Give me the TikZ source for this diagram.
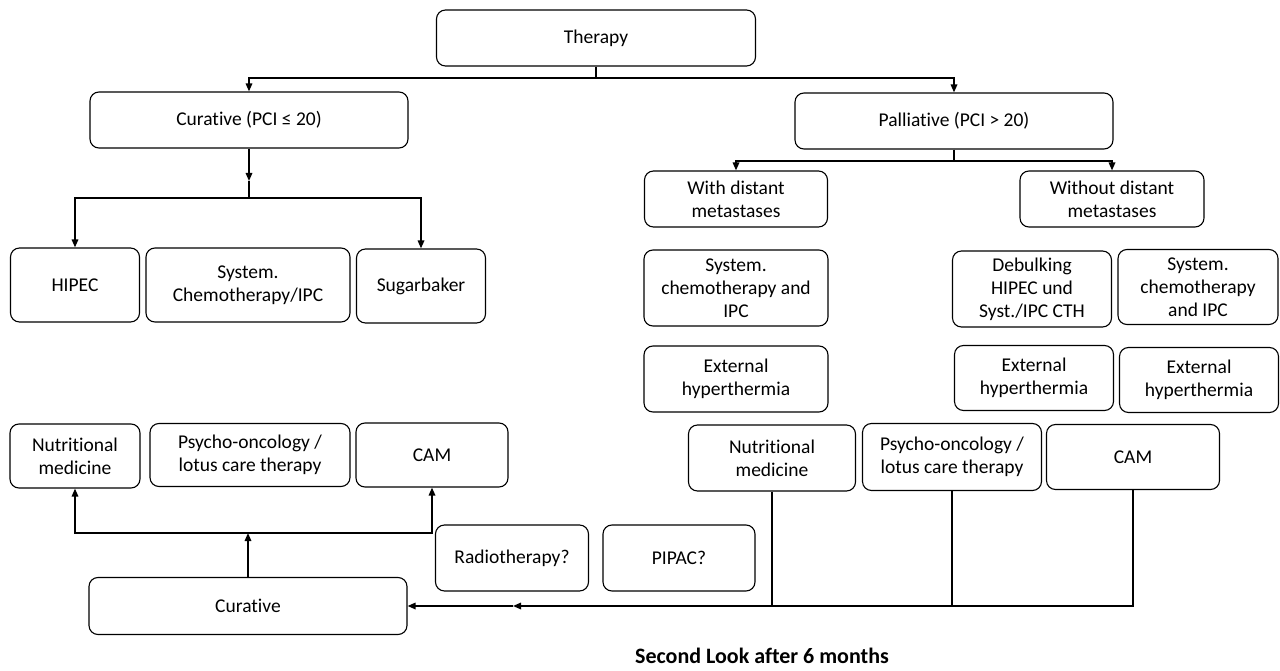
\documentclass[tikz,border=0pt]{standalone}
\usepackage{fontspec}
\setmainfont{Carlito}[Ligatures=NoCommon]
\usetikzlibrary{arrows.meta}

\begin{document}
\begin{tikzpicture}[x=1pt,y=-1pt,
      font=\fontsize{19.5}{23}\selectfont,
      box/.style={draw,rounded corners=9pt,line width=1.1pt,align=center,
                  inner sep=2pt},
      link/.style={line width=1.6pt},
      arr/.style={link,-{Triangle[length=8pt,width=6.5pt]}}]
    \useasboundingbox (0,0) rectangle (1280,671);
    % top levels
    \node[box,minimum width=319,minimum height=56] (therapy) at (596,38) {Therapy};
    \node[box,minimum width=318,minimum height=56] (curP) at (249,120) {Curative (PCI ≤ 20)};
    \node[box,minimum width=318,minimum height=56] (palP) at (954,121) {Palliative (PCI > 20)};
    \node[box,minimum width=183,minimum height=56] (withM) at (736,199) {With distant\\metastases};
    \node[box,minimum width=184,minimum height=56] (withoutM) at (1112,199) {Without distant\\metastases};

    % curative branch
    \node[box,minimum width=129,minimum height=74] (hipec) at (75,285) {HIPEC};
    \node[box,minimum width=204,minimum height=74] (sysL) at (248,285) {System.\\Chemotherapy/IPC};
    \node[box,minimum width=129,minimum height=74] (sugar) at (421,286) {Sugarbaker};
    \node[box,minimum width=130,minimum height=64] (nutL) at (75,456) {Nutritional\\medicine};
    \node[box,minimum width=200,minimum height=63] (psyL) at (250,455) {Psycho-oncology /\\lotus care therapy};
    \node[box,minimum width=152,minimum height=64] (camL) at (432,455) {CAM};
    \node[box,minimum width=153,minimum height=66] (radio) at (512,558) {Radiotherapy?};
    \node[box,minimum width=152,minimum height=66] (pipac) at (679,558) {PIPAC?};
    \node[box,minimum width=318,minimum height=57] (cure) at (248,606) {Curative};

    % palliative branch
    \node[box,minimum width=184,minimum height=76] (sysW) at (736,288) {System.\\chemotherapy and\\IPC};
    \node[box,minimum width=184,minimum height=66] (extW) at (736,379) {External\\hyperthermia};
    \node[box,minimum width=159,minimum height=76] (debulk) at (1032,289) {Debulking\\HIPEC und\\Syst./IPC CTH};
    \node[box,minimum width=160,minimum height=75] (sysO) at (1198,287) {System.\\chemotherapy\\and IPC};
    \node[box,minimum width=159,minimum height=65] (extD) at (1034,378) {External\\hyperthermia};
    \node[box,minimum width=159,minimum height=65] (extO) at (1199,380) {External\\hyperthermia};
    \node[box,minimum width=167,minimum height=66] (nutR) at (772,458) {Nutritional\\medicine};
    \node[box,minimum width=179,minimum height=67] (psyR) at (952,457) {Psycho-oncology /\\lotus care therapy};
    \node[box,minimum width=173,minimum height=65] (camR) at (1133,457) {CAM};

    \node[font=\fontsize{22}{26}\selectfont\bfseries,inner sep=1pt] (second) at (762,656) {Second Look after 6 months};

    % connectors
    \coordinate (tj) at (596,78);
    \draw[link] (therapy.south) -- (tj);
    \draw[arr] (tj) -| (curP.north);
    \draw[arr] (tj) -| (palP.north);

    \coordinate (pj) at (954,161);
    \draw[link] (palP.south) -- (pj);
    \draw[arr] (pj) -| (withM.north);
    \draw[arr] (pj) -| (withoutM.north);

    \coordinate (ca) at (249,181);
    \coordinate (cj) at (249,198);
    \draw[arr] (curP.south) -- (ca);
    \draw[link] (ca) -- (cj);
    \draw[arr] (cj) -| (hipec.north);
    \draw[arr] (cj) -| (sugar.north);

    \coordinate (bj) at (248,533);
    \draw[arr] (cure.north) -- (bj);
    \draw[arr] (bj) -| (nutL.south);
    \draw[arr] (bj) -| (camL.south);

    \coordinate (mid) at (513,606);
    \draw[arr] (camR.south) |- (mid);
    \draw[arr] (mid) -- (cure.east);
    \draw[link] (nutR.south) -- (nutR.south |- cure.east);
    \draw[link] (psyR.south) -- (psyR.south |- cure.east);
\end{tikzpicture}
\end{document}
